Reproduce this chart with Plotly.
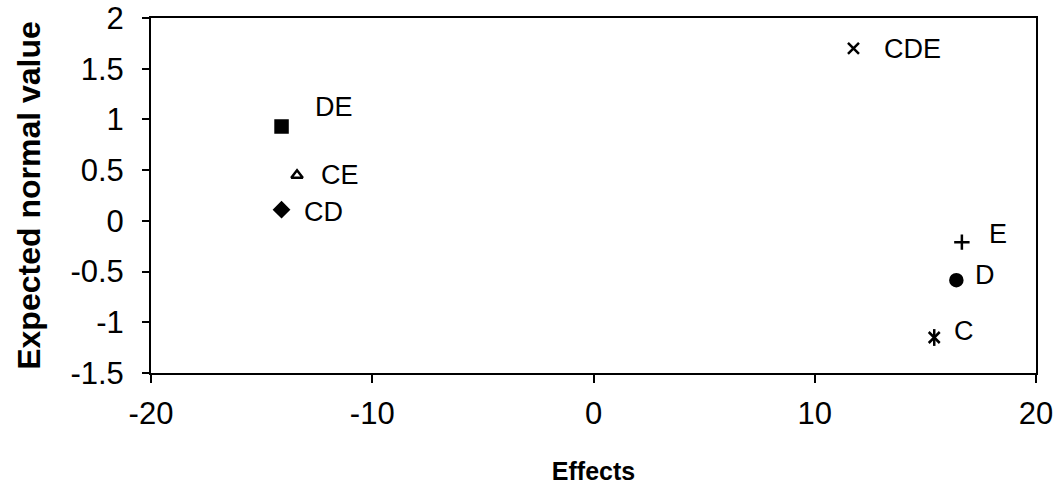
import plotly.graph_objects as go

labels = ["DE", "CE", "CD", "CDE", "E", "D", "C"]
effects = [-14.1, -13.4, -14.1, 11.75, 16.65, 16.4, 15.4]
normal_values = [0.93, 0.45, 0.11, 1.70, -0.21, -0.585, -1.15]

symbols = ["square", "triangle-up-open", "diamond", "x-thin-open", "cross-thin-open", "circle", "x-thin-open"]
sizes = [12, 10, 11, 11, 11, 12, 11]
label_dx = [52, 43, 42, 59, 36, 29, 30]
label_dy = [20, 0, -2, -1, 8, 5, 7]

FONT = "Liberation Sans"

fig = go.Figure()
for i, lab in enumerate(labels):
    fig.add_trace(go.Scatter(
        x=[effects[i]], y=[normal_values[i]], mode="markers",
        marker=dict(symbol=symbols[i], size=sizes[i], color="black",
                    line=dict(color="black", width=2.5)),
        showlegend=False, name=lab,
    ))
    if lab == "C":
        # star marker: x plus vertical stroke
        fig.add_trace(go.Scatter(
            x=[effects[i]], y=[normal_values[i]], mode="markers",
            marker=dict(symbol="line-ns-open", size=12, color="black",
                        line=dict(color="black", width=2.5)),
            showlegend=False, name=lab,
        ))
    fig.add_annotation(x=effects[i], y=normal_values[i], text=lab, showarrow=False,
                       xshift=label_dx[i], yshift=label_dy[i], xanchor="center", yanchor="middle",
                       font=dict(family=FONT, size=27, color="black"))

fig.update_layout(
    width=1064, height=494,
    margin=dict(l=151, r=28, t=18, b=121, autoexpand=False),
    paper_bgcolor="white", plot_bgcolor="white",
    font=dict(family=FONT, color="black"),
)
fig.update_xaxes(
    range=[-20, 20], tickvals=[-20, -10, 0, 10, 20], ticktext=["-20", "-10", "0", "10", "20"],
    showgrid=False, zeroline=False, showline=True, linecolor="black", linewidth=2, mirror=True,
    ticks="outside", ticklen=8, tickwidth=1.5, tickcolor="black", automargin=False,
    tickfont=dict(family=FONT, size=31), ticklabelstandoff=4,
    title=dict(text="<b>Effects</b>", font=dict(family=FONT, size=25), standoff=32),
)
fig.update_yaxes(
    range=[-1.5, 2], tickvals=[-1.5, -1, -0.5, 0, 0.5, 1, 1.5, 2],
    ticktext=["-1.5", "-1", "-0.5", "0", "0.5", "1", "1.5", "2"],
    showgrid=False, zeroline=False, showline=True, linecolor="black", linewidth=2, mirror=True,
    ticks="outside", ticklen=7, tickwidth=1.5, tickcolor="black", automargin=False,
    tickfont=dict(family=FONT, size=31), ticklabelstandoff=12,
    title=dict(text="<b>Expected normal value</b>", font=dict(family=FONT, size=32), standoff=20),
)

fig.write_html("out.html")
